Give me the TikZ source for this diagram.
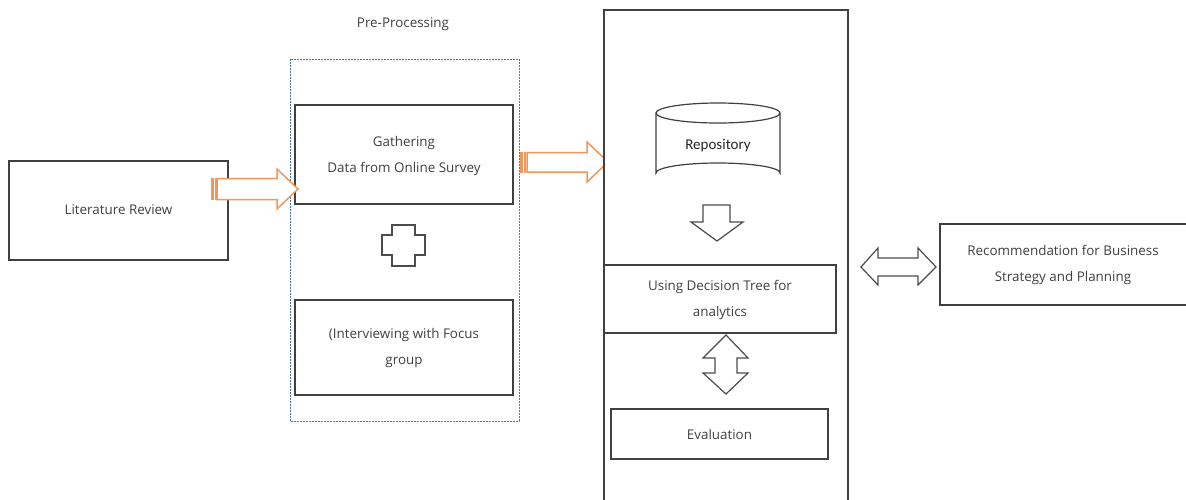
\documentclass[tikz,border=0pt]{standalone}
\usepackage{fontspec}
\setmainfont{Open Sans}
\newfontfamily\repofont{Carlito}
\begin{document}
\begin{tikzpicture}[x=1pt,y=-1pt,
  txt/.style={text=black!75, font=\fontsize{13.4}{26}\selectfont, align=center, inner sep=0pt},
  box/.style={draw=black!75, line width=1.2pt, fill=white},
  blk/.style={draw=black!70, line width=1.2pt, fill=white, line join=miter},
  orng/.style={draw=arrorange, line width=1.5pt, fill=white, line join=miter},
]
\definecolor{arrorange}{RGB}{242,150,90}
\definecolor{dashblue}{RGB}{70,120,180}
\useasboundingbox (0,0) rectangle (1186,499);
\fill[white] (0,0) rectangle (1186,499);

% Literature review
\draw[box] (9,161) rectangle (228,260);
\node[txt] (lit) at (118.5,210) {Literature Review};

% Pre-processing
\node[txt] (pre) at (403,24) {Pre-Processing};
\draw[draw=dashblue, line width=1pt, dash pattern=on 2pt off 1pt] (290,59) rectangle (519,421);
\draw[box] (295,105) rectangle (513,204);
\node[txt] (gath) at (404,156) {Gathering\\Data from Online Survey};
\draw[box] (295,300) rectangle (513,395);
\node[txt] (intv) at (404,348) {(Interviewing with Focus\\group};
% plus
\draw[blk] (392,225) -- (415,225) -- (415,235) -- (425,235) -- (425,255) -- (415,255) -- (415,266) -- (392,266) -- (392,255) -- (382,255) -- (382,235) -- (392,235) -- cycle;

% orange arrows
\draw[orng] (217,178.5) -- (277,178.5) -- (277,169) -- (298,189) -- (277,209) -- (277,199.5) -- (217,199.5) -- cycle;
\fill[arrorange] (211,178) rectangle (213.8,200);
\fill[arrorange] (215.3,178) rectangle (216.8,200);

\draw[orng] (527,152.5) -- (587,152.5) -- (587,142) -- (608,162) -- (587,182) -- (587,172) -- (527,172) -- cycle;
\fill[arrorange] (520,152) rectangle (522.8,172.5);
\fill[arrorange] (524.3,152) rectangle (525.8,172.5);

% big box
\draw[box] (604,505) -- (604,10) -- (848,10) -- (848,505);

% repository cylinder
\draw[box] (656,113) -- (656,173) arc[start angle=180, end angle=360, x radius=62, y radius=10] -- (780,113);
\draw[box] (718,113) ellipse[x radius=62, y radius=10];
\node[text=black!85, font=\repofont\fontsize{15}{17}\selectfont, inner sep=0pt] (repo) at (718,146) {Repository};

% down arrow
\draw[blk] (703,205) -- (730,205) -- (730,222) -- (743,222) -- (717,241) -- (691,222) -- (703,222) -- cycle;

% decision tree box
\draw[box] (604,265) rectangle (836,333);
\node[txt] (dt) at (720,300) {Using Decision Tree for\\analytics};

% up-down arrow
\draw[blk] (726,335) -- (748,358) -- (737,358) -- (737,373) -- (748,373) -- (726,394) -- (703,373) -- (715,373) -- (715,358) -- (703,358) -- cycle;

% evaluation
\draw[box] (611,409) rectangle (828,459);
\node[txt] (ev) at (719.5,434) {Evaluation};

% left-right arrow
\draw[blk] (861,267) -- (878,248) -- (878,258) -- (918,258) -- (918,248) -- (936,267) -- (918,285) -- (918,276) -- (878,276) -- (878,285) -- cycle;

% recommendation
\draw[box] (1190,224) -- (940,224) -- (940,305) -- (1190,305);
\node[txt] (rec) at (1063,265) {Recommendation for Business\\Strategy and Planning};
\end{tikzpicture}
\end{document}
